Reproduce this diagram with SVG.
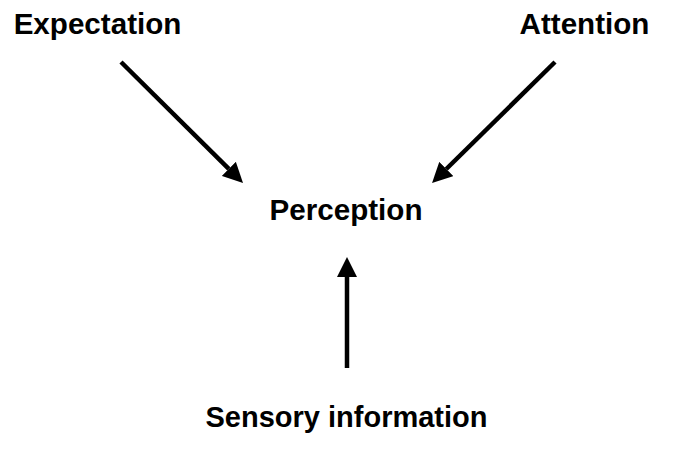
<svg xmlns="http://www.w3.org/2000/svg" width="673" height="456" viewBox="0 0 673 456">
<style>
text{font-family:"Liberation Sans",Arial,Helvetica,sans-serif;font-weight:bold;font-size:29.6px;fill:#000;text-anchor:middle}
.c{stroke:#000;stroke-width:4.5;fill:none}
</style>
<defs>
<marker id="ah" viewBox="0 0 20 20" markerWidth="20" markerHeight="20" refX="0" refY="10" orient="auto" markerUnits="userSpaceOnUse">
<path d="M0,0 L20,10 L0,20 Z" fill="#000"/>
</marker>
</defs>
<rect width="673" height="456" fill="#fff"/>
<g id="expectation"><text x="97.5" y="34">Expectation</text></g>
<g id="attention"><text x="584.5" y="34">Attention</text></g>
<g id="perception"><text x="346" y="220">Perception</text></g>
<g id="sensory"><text x="346.5" y="427" style="font-size:29px">Sensory information</text></g>
<g id="connectors">
<path class="c" d="M121,62 L228.8,168.9" marker-end="url(#ah)"/>
<path class="c" d="M555,62 L446.3,169" marker-end="url(#ah)"/>
<path class="c" d="M347,368 L347,277" marker-end="url(#ah)"/>
</g>
</svg>
